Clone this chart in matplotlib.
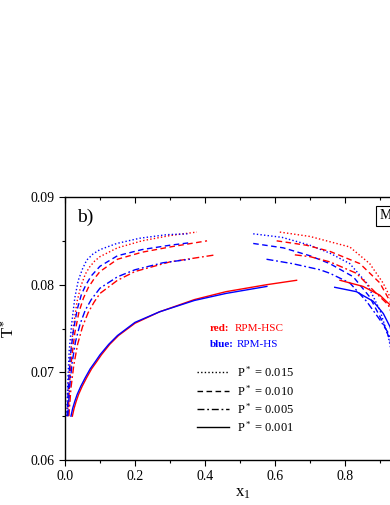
import matplotlib
matplotlib.use("Agg")
import matplotlib.pyplot as plt
from matplotlib.lines import Line2D
from matplotlib.ticker import MultipleLocator, FormatStrFormatter

plt.rcParams["font.family"] = ["Liberation Serif", "DejaVu Serif"]
plt.rcParams["mathtext.fontset"] = "custom"
plt.rcParams["mathtext.rm"] = "Liberation Serif"
plt.rcParams["mathtext.it"] = "Liberation Serif:italic"

RED = "#ff0000"
BLUE = "#0000ff"

# pressures and their line styles
pressures = ["0.015", "0.010", "0.005", "0.001"]
styles = [(0, (1, 1.6)), (0, (4, 2.5)), (0, (5, 2, 1.3, 2)), "-"]

# ---- left branches (low x1) ----
hsc_left_x = [
    [0.007, 0.011, 0.016, 0.024, 0.034, 0.045, 0.058, 0.07, 0.085, 0.1, 0.15, 0.22, 0.3, 0.377],
    [0.009, 0.013, 0.019, 0.028, 0.04, 0.053, 0.067, 0.082, 0.1, 0.15, 0.22, 0.3, 0.406],
    [0.011, 0.017, 0.025, 0.036, 0.05, 0.066, 0.083, 0.1, 0.15, 0.2, 0.3, 0.43],
    [0.021, 0.026, 0.032, 0.039, 0.049, 0.062, 0.076, 0.092, 0.104, 0.128, 0.153, 0.2,
     0.27, 0.37, 0.46, 0.577, 0.662],
]
hsc_left_t = [
    [0.065, 0.069, 0.0722, 0.0752, 0.0780, 0.0798, 0.0812, 0.0820, 0.0827, 0.0832, 0.0842,
     0.0850, 0.0856, 0.0860],
    [0.065, 0.0688, 0.0716, 0.0745, 0.0769, 0.0785, 0.0797, 0.0806, 0.0815, 0.0829, 0.0837,
     0.0843, 0.0850],
    [0.065, 0.0682, 0.0708, 0.0732, 0.0752, 0.0768, 0.0780, 0.0790, 0.0805, 0.0815, 0.0826,
     0.0834],
    [0.065, 0.0659, 0.0667, 0.0675, 0.0684, 0.0694, 0.0704, 0.0713, 0.0720, 0.0732, 0.0742,
     0.0756, 0.0769, 0.0783, 0.0792, 0.0800, 0.0805],
]
hs_left_x = [
    [0.005, 0.008, 0.012, 0.019, 0.028, 0.038, 0.05, 0.062, 0.08, 0.1, 0.148, 0.214, 0.29, 0.35],
    [0.006, 0.01, 0.015, 0.024, 0.035, 0.047, 0.06, 0.075, 0.1, 0.15, 0.22, 0.3, 0.36],
    [0.008, 0.013, 0.02, 0.03, 0.043, 0.058, 0.075, 0.1, 0.15, 0.2, 0.28, 0.357],
    [0.017, 0.022, 0.028, 0.035, 0.045, 0.058, 0.072, 0.088, 0.1, 0.125, 0.15, 0.2, 0.27,
     0.37, 0.46, 0.577],
]
hs_left_t = [
    [0.065, 0.069, 0.0725, 0.0755, 0.0785, 0.0805, 0.0818, 0.0828, 0.0835, 0.0840, 0.0847,
     0.0853, 0.0857, 0.0858],
    [0.065, 0.0688, 0.0718, 0.0748, 0.0772, 0.0789, 0.0800, 0.0810, 0.0821, 0.0833, 0.0840,
     0.0845, 0.0848],
    [0.065, 0.0682, 0.0710, 0.0735, 0.0755, 0.0771, 0.0783, 0.0796, 0.0809, 0.0817, 0.0825,
     0.0829],
    [0.065, 0.0659, 0.0667, 0.0675, 0.0684, 0.0694, 0.0704, 0.0713, 0.0720, 0.0732, 0.0742,
     0.0757, 0.0769, 0.0782, 0.0790, 0.0798],
]

# ---- right branches (high x1) ----
hsc_right_x = [
    [0.614, 0.70, 0.757, 0.814, 0.871, 0.909, 0.929, 0.95, 0.97, 0.99],
    [0.605, 0.69, 0.757, 0.843, 0.90, 0.929, 0.95, 0.975],
    [0.657, 0.70, 0.757, 0.833, 0.89, 0.924, 0.95, 0.97],
    [0.786, 0.852, 0.90, 0.929, 0.955, 0.975],
]
hsc_right_t = [
    [0.0860, 0.0855, 0.0849, 0.0843, 0.0824, 0.0802, 0.0786, 0.0760, 0.0720, 0.0660],
    [0.0850, 0.0845, 0.0838, 0.0824, 0.0802, 0.0781, 0.0755, 0.0700],
    [0.0834, 0.0832, 0.0826, 0.0813, 0.0790, 0.0777, 0.0750, 0.0710],
    [0.0805, 0.0798, 0.0788, 0.0777, 0.0750, 0.0710],
]
hs_right_x = [
    [0.538, 0.62, 0.70, 0.757, 0.814, 0.862, 0.90, 0.924, 0.945, 0.96],
    [0.538, 0.624, 0.70, 0.757, 0.824, 0.871, 0.91, 0.929, 0.95],
    [0.576, 0.65, 0.729, 0.757, 0.814, 0.862, 0.90, 0.924, 0.95],
    [0.771, 0.833, 0.881, 0.91, 0.929, 0.95],
]
hs_right_t = [
    [0.0858, 0.0854, 0.0845, 0.0836, 0.0824, 0.0802, 0.0771, 0.0741, 0.0700, 0.0660],
    [0.0847, 0.0842, 0.0833, 0.0824, 0.0809, 0.0786, 0.0756, 0.0737, 0.0700],
    [0.0829, 0.0824, 0.0817, 0.0813, 0.0802, 0.0781, 0.0760, 0.0745, 0.0710],
    [0.0797, 0.0792, 0.0781, 0.0767, 0.0752, 0.0720],
]

fig = plt.figure(figsize=(3.9, 5.05), dpi=100)
# axes runs past the right edge, as in the cropped original
ax = fig.add_axes([0.1667, 0.0891, 0.897, 0.5208])

for i in range(4):
    ax.plot(hsc_left_x[i], hsc_left_t[i], color=RED, lw=1.0, linestyle=styles[i])
    ax.plot(hs_left_x[i], hs_left_t[i], color=BLUE, lw=1.0, linestyle=styles[i])
    ax.plot(hsc_right_x[i], hsc_right_t[i], color=RED, lw=1.0, linestyle=styles[i])
    ax.plot(hs_right_x[i], hs_right_t[i], color=BLUE, lw=1.0, linestyle=styles[i])

ax.set_xlim(0, 1.0)
ax.set_ylim(0.06, 0.09)
ax.xaxis.set_major_locator(MultipleLocator(0.2))
ax.xaxis.set_minor_locator(MultipleLocator(0.1))
ax.yaxis.set_major_locator(MultipleLocator(0.01))
ax.yaxis.set_minor_locator(MultipleLocator(0.005))
ax.xaxis.set_major_formatter(FormatStrFormatter("%.1f"))
ax.yaxis.set_major_formatter(FormatStrFormatter("%.2f"))
ax.tick_params(which="both", labelsize=10, width=0.8)
ax.tick_params(which="major", length=4)
ax.tick_params(which="minor", length=2.5)
ax.tick_params(which="both", top=True, right=True)
ax.tick_params(axis="x", which="both", direction="out")
ax.tick_params(axis="y", which="both", direction="out")
for t in ax.xaxis.get_major_ticks() + ax.xaxis.get_minor_ticks():
    t.tick2line.set_marker(3)  # top ticks point inward
for s in ax.spines.values():
    s.set_linewidth(1.0)

ax.set_xlabel(r"x$_1$", fontsize=12)
ax.set_ylabel(r"T$^*$", fontsize=12)
ax.xaxis.set_label_coords(0.509, -0.095)
ax.yaxis.set_label_coords(-0.135, 0.5)

ax.text(0.034, 0.924, "b)", transform=ax.transAxes, fontsize=14, va="center")
ax.text(0.9, 0.928, "Mixture", transform=ax.transAxes, fontsize=10, va="center",
        bbox=dict(boxstyle="square,pad=0.25", fc="white", ec="black", lw=0.8))

ax.text(0.414, 0.5, "red:", transform=ax.transAxes, color=RED, fontsize=8,
        fontweight="bold", va="center")
ax.text(0.486, 0.5, "RPM-HSC", transform=ax.transAxes, color=RED, fontsize=8, va="center")
ax.text(0.414, 0.44, "blue:", transform=ax.transAxes, color=BLUE, fontsize=8,
        fontweight="bold", va="center")
ax.text(0.491, 0.44, "RPM-HS", transform=ax.transAxes, color=BLUE, fontsize=8, va="center")

handles = [Line2D([], [], color="black", lw=1.0, linestyle=s) for s in styles]
labels = [r"P$^*$ = " + p for p in pressures]
ax.legend(handles, labels, loc="upper left", bbox_to_anchor=(0.37, 0.37),
          frameon=False, fontsize=9, handlelength=2.6, handletextpad=0.6,
          labelspacing=0.3, borderpad=0.2, borderaxespad=0)

fig.savefig("out.png", dpi=100)
